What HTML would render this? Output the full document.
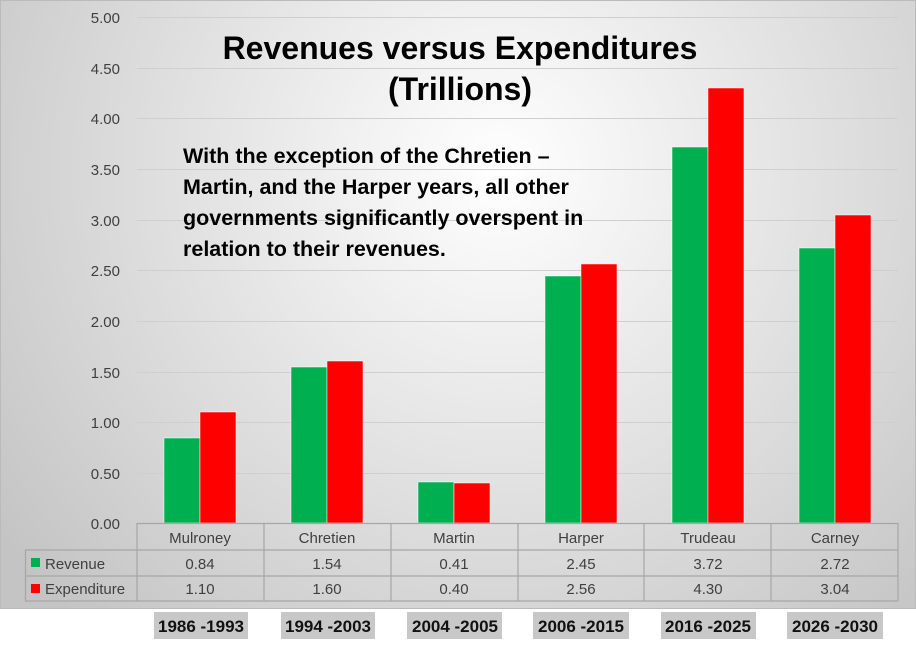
<!DOCTYPE html>
<html><head><meta charset="utf-8"><style>
body{margin:0;background:#fff;}
svg{display:block;font-family:"Liberation Sans",sans-serif;}
</style></head><body>
<svg width="916" height="650" viewBox="0 0 916 650">
<defs>
<radialGradient id="bg" cx="500" cy="170" r="620" gradientUnits="userSpaceOnUse">
<stop offset="0" stop-color="#ffffff"/>
<stop offset="0.6" stop-color="#dcdcdc"/>
<stop offset="1" stop-color="#c4c4c4"/>
</radialGradient>
</defs>
<rect x="0" y="0" width="916" height="609" fill="url(#bg)"/>
<rect x="0.5" y="0.5" width="915" height="608" fill="none" stroke="#bbb"/>
<g stroke="#cfcfcf" stroke-width="1">
<line x1="137" x2="898" y1="17.5" y2="17.5"/>
<line x1="137" x2="898" y1="68.5" y2="68.5"/>
<line x1="137" x2="898" y1="118.5" y2="118.5"/>
<line x1="137" x2="898" y1="169.5" y2="169.5"/>
<line x1="137" x2="898" y1="220.5" y2="220.5"/>
<line x1="137" x2="898" y1="270.5" y2="270.5"/>
<line x1="137" x2="898" y1="321.5" y2="321.5"/>
<line x1="137" x2="898" y1="372.5" y2="372.5"/>
<line x1="137" x2="898" y1="422.5" y2="422.5"/>
<line x1="137" x2="898" y1="473.5" y2="473.5"/>
</g>
<g font-size="15" fill="#404040" text-anchor="end">
<text x="120" y="23">5.00</text><text x="120" y="74">4.50</text><text x="120" y="124">4.00</text>
<text x="120" y="175">3.50</text><text x="120" y="226">3.00</text><text x="120" y="276">2.50</text>
<text x="120" y="327">2.00</text><text x="120" y="378">1.50</text><text x="120" y="428">1.00</text>
<text x="120" y="479">0.50</text><text x="120" y="529">0.00</text>
</g>
<g stroke="#fff" stroke-width="0.5">
<rect x="164" y="438" width="36" height="85" fill="#00b050"/><rect x="200" y="412" width="36" height="111" fill="#ff0000"/>
<rect x="291" y="367" width="36" height="156" fill="#00b050"/><rect x="327" y="361" width="36" height="162" fill="#ff0000"/>
<rect x="418" y="482" width="36" height="41" fill="#00b050"/><rect x="454" y="483" width="36" height="40" fill="#ff0000"/>
<rect x="545" y="276" width="36" height="247" fill="#00b050"/><rect x="581" y="264" width="36" height="259" fill="#ff0000"/>
<rect x="672" y="147" width="36" height="376" fill="#00b050"/><rect x="708" y="88" width="36" height="435" fill="#ff0000"/>
<rect x="799" y="248" width="36" height="275" fill="#00b050"/><rect x="835" y="215" width="36" height="308" fill="#ff0000"/>
</g>
<g stroke="#a6a6a6" stroke-width="1.2" fill="none">
<line x1="137" x2="898" y1="523.5" y2="523.5"/>
<line x1="25" x2="898" y1="550" y2="550"/>
<line x1="25" x2="898" y1="576" y2="576"/>
<line x1="25" x2="898" y1="601" y2="601"/>
<line x1="25.5" x2="25.5" y1="550" y2="601"/>
<line x1="137" x2="137" y1="523" y2="601"/>
<line x1="264" x2="264" y1="523" y2="601"/>
<line x1="391" x2="391" y1="523" y2="601"/>
<line x1="518" x2="518" y1="523" y2="601"/>
<line x1="644" x2="644" y1="523" y2="601"/>
<line x1="771" x2="771" y1="523" y2="601"/>
<line x1="898" x2="898" y1="523" y2="601"/>
</g>
<g font-size="15" fill="#404040" text-anchor="middle">
<text x="200" y="543">Mulroney</text><text x="327" y="543">Chretien</text><text x="454" y="543">Martin</text>
<text x="581" y="543">Harper</text><text x="708" y="543">Trudeau</text><text x="835" y="543">Carney</text>
<text x="200" y="569">0.84</text><text x="327" y="569">1.54</text><text x="454" y="569">0.41</text>
<text x="581" y="569">2.45</text><text x="708" y="569">3.72</text><text x="835" y="569">2.72</text>
<text x="200" y="594">1.10</text><text x="327" y="594">1.60</text><text x="454" y="594">0.40</text>
<text x="581" y="594">2.56</text><text x="708" y="594">4.30</text><text x="835" y="594">3.04</text>
</g>
<rect x="31" y="558" width="9" height="9" fill="#00b050"/>
<rect x="31" y="584" width="9" height="9" fill="#ff0000"/>
<g font-size="15" fill="#404040">
<text x="45" y="569">Revenue</text><text x="45" y="594">Expenditure</text>
</g>
<g font-weight="bold" fill="#000">
<text x="460" y="59" font-size="32" text-anchor="middle">Revenues versus Expenditures</text>
<text x="460" y="100" font-size="32" text-anchor="middle">(Trillions)</text>
<g font-size="21.5">
<text x="183" y="163">With the exception of the Chretien –</text>
<text x="183" y="194">Martin, and the Harper years, all other</text>
<text x="183" y="225">governments significantly overspent in</text>
<text x="183" y="256">relation to their revenues.</text>
</g>
</g>
<g fill="#c8c8c8">
<rect x="154" y="612" width="94" height="27"/><rect x="281" y="612" width="94" height="27"/>
<rect x="407" y="612" width="95" height="27"/><rect x="533" y="612" width="96" height="27"/>
<rect x="661" y="612" width="95" height="27"/><rect x="787" y="612" width="96" height="27"/>
</g>
<g font-size="17" font-weight="bold" fill="#111" text-anchor="middle">
<text x="201" y="632">1986 -1993</text><text x="328" y="632">1994 -2003</text>
<text x="455" y="632">2004 -2005</text><text x="581" y="632">2006 -2015</text>
<text x="708" y="632">2016 -2025</text><text x="835" y="632">2026 -2030</text>
</g>
</svg>
</body></html>
